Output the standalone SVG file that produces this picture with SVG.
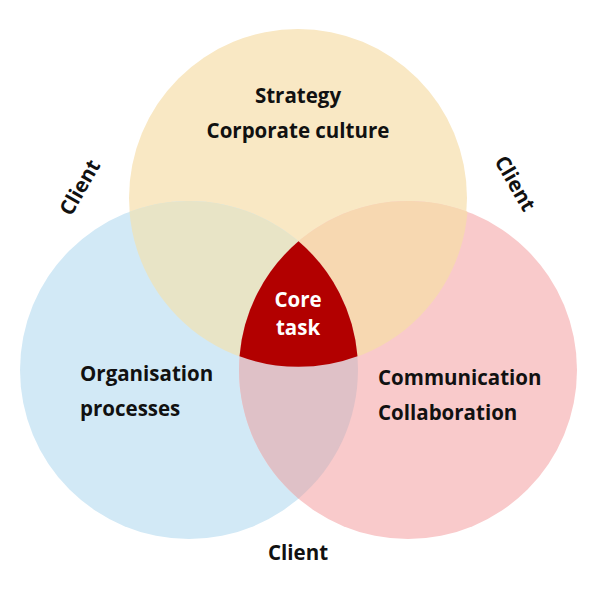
<svg xmlns="http://www.w3.org/2000/svg" width="612" height="602" viewBox="0 0 612 602">
<style>
.t{font-family:"Open Sans","Noto Sans",sans-serif;font-weight:700;font-size:20.5px;fill:#111}
.c{text-anchor:middle}
.w{fill:#fff}
</style>
<rect width="612" height="602" fill="#fff"/>
<g id="circle-strategy"><circle cx="298" cy="198" r="169" fill="#f9e8c4"/></g>
<g id="circle-organisation"><circle cx="189" cy="370" r="169" fill="#d2e9f6"/></g>
<g id="circle-communication"><circle cx="408" cy="370" r="169" fill="#f9cacb"/></g>
<g id="overlaps">
<path d="M129.5,211.8 A169,169 0 0 1 357.5,356.2 A169,169 0 0 1 129.5,211.8Z" fill="#e8e4c6"/>
<path d="M239.5,356.2 A169,169 0 0 1 467.5,211.8 A169,169 0 0 1 239.5,356.2Z" fill="#f7d8b1"/>
<path d="M298.5,241.3 A169,169 0 0 1 298.5,498.7 A169,169 0 0 1 298.5,241.3Z" fill="#dfc1c7"/>
</g>
<g id="core">
<path d="M298.5,241.3 A169,169 0 0 1 357.5,356.2 A169,169 0 0 1 239.5,356.2 A169,169 0 0 1 298.5,241.3Z" fill="#b20000"/>
<text class="t c w" x="298" y="307">Core</text>
<text class="t c w" x="298" y="335">task</text>
</g>
<g id="labels">
<text class="t c" x="298" y="103">Strategy</text>
<text class="t c" x="298" y="138">Corporate culture</text>
<text class="t" x="80" y="381">Organisation</text>
<text class="t" x="80" y="416">processes</text>
<text class="t" x="378" y="385">Communication</text>
<text class="t" x="378" y="420">Collaboration</text>
<text class="t c" x="298" y="560">Client</text>
<text class="t c" transform="translate(86,191) rotate(-60)">Client</text>
<text class="t c" transform="translate(509,187) rotate(60)">Client</text>
</g>
</svg>
